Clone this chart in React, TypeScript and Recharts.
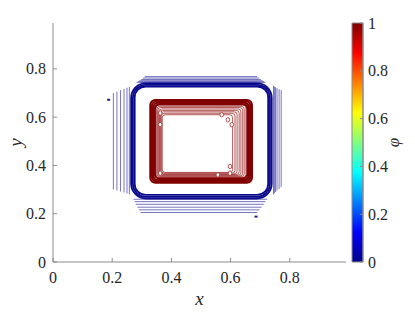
import React from "react";
import {
  ComposedChart, BarChart, Bar, Line, Scatter, XAxis, YAxis,
  ReferenceArea, Rectangle, Label,
} from "recharts";

// axis ticks
const X_TICKS = [0, 0.2, 0.4, 0.6, 0.8];
const Y_TICKS = [0, 0.2, 0.4, 0.6, 0.8];
const CB_TICKS = [0, 0.2, 0.4, 0.6, 0.8, 1];

// thick phi~0 contours (x1, x2, y1, y2)
const BLUE_THICK = [
  [0.276, 0.727, 0.278, 0.727],
  [0.270, 0.733, 0.270, 0.734],
  [0.264, 0.739, 0.263, 0.741],
];

// thin outer phi~0 contours, one side at a time (outer -> inner)
const BLUE_THIN_LEFT = [0.204, 0.216, 0.228, 0.240, 0.250, 0.258];
const BLUE_THIN_LEFT_SPAN = [[0.300, 0.700], [0.296, 0.706], [0.292, 0.712], [0.288, 0.717], [0.284, 0.722], [0.280, 0.726]];
const BLUE_THIN_TOP = [0.768, 0.762, 0.756, 0.751, 0.747, 0.744];
const BLUE_THIN_TOP_SPAN = [[0.310, 0.690], [0.304, 0.696], [0.298, 0.702], [0.292, 0.708], [0.287, 0.713], [0.282, 0.718]];
const BLUE_THIN_RIGHT = [0.771, 0.764, 0.757, 0.752, 0.748, 0.745];
const BLUE_THIN_RIGHT_SPAN = [[0.310, 0.712], [0.302, 0.716], [0.296, 0.720], [0.290, 0.724], [0.285, 0.727], [0.280, 0.730]];
const BLUE_THIN_BOTTOM = [0.205, 0.216, 0.227, 0.239, 0.250, 0.260];
const BLUE_THIN_BOTTOM_SPAN = [[0.296, 0.690], [0.290, 0.698], [0.285, 0.705], [0.280, 0.712], [0.276, 0.718], [0.272, 0.723]];

const BLUE_SPECKS = [{ x: 0.188, y: 0.672 }, { x: 0.686, y: 0.188 }];

// phi~1 contours (x1, x2, y1, y2)
const RED_THICK = [
  [0.329, 0.672, 0.329, 0.671],
  [0.334, 0.667, 0.334, 0.666],
  [0.339, 0.662, 0.339, 0.660],
  [0.344, 0.657, 0.345, 0.654],
];
const RED_THIN = [
  [0.348, 0.652, 0.350, 0.650],
  [0.351, 0.646, 0.353, 0.645],
  [0.354, 0.641, 0.356, 0.640],
  [0.357, 0.635, 0.359, 0.634],
  [0.360, 0.629, 0.362, 0.628],
  [0.363, 0.622, 0.365, 0.622],
  [0.366, 0.615, 0.368, 0.616],
  [0.369, 0.607, 0.371, 0.610],
];
const RED_DOTS = [
  { x: 0.362, y: 0.617 }, { x: 0.362, y: 0.569 }, { x: 0.362, y: 0.368 },
  { x: 0.598, y: 0.368 }, { x: 0.598, y: 0.396 }, { x: 0.591, y: 0.589 },
  { x: 0.604, y: 0.569 }, { x: 0.570, y: 0.610 }, { x: 0.557, y: 0.361 },
];

const CB_DATA = [{ name: "phi", v: 1 }];

const FONT = "Liberation Serif, DejaVu Serif, serif";
const AX = "#8c8c8c";
const INK = "#262626";

// tick label drawn as plain svg text so the serif font sticks
const serifTick = (dy: string) => (p: any) => (
  <text x={p.x} y={p.y} dy={dy} textAnchor={p.textAnchor}
    fontFamily={FONT} fontSize={16} fill={INK}>
    {String(p.payload.value)}
  </text>
);

// one thin contour = four open sides separated by gaps
function thinContour(i: number) {
  const L = BLUE_THIN_LEFT[i], T = BLUE_THIN_TOP[i], R = BLUE_THIN_RIGHT[i], B = BLUE_THIN_BOTTOM[i];
  return [
    { x: L, y: BLUE_THIN_LEFT_SPAN[i][0] }, { x: L, y: BLUE_THIN_LEFT_SPAN[i][1] }, { x: L, y: null },
    { x: BLUE_THIN_TOP_SPAN[i][0], y: T }, { x: BLUE_THIN_TOP_SPAN[i][1], y: T }, { x: BLUE_THIN_TOP_SPAN[i][1], y: null },
    { x: R, y: BLUE_THIN_RIGHT_SPAN[i][1] }, { x: R, y: BLUE_THIN_RIGHT_SPAN[i][0] }, { x: R, y: null },
    { x: BLUE_THIN_BOTTOM_SPAN[i][1], y: B }, { x: BLUE_THIN_BOTTOM_SPAN[i][0], y: B },
  ];
}

const rounded = (r: number) => (p: any) => <Rectangle {...p} radius={r} />;

export default function App() {
  return (
    <div style={{ position: "absolute", left: 0, top: 0, width: 415, height: 312, background: "#fff", fontFamily: FONT }}>
      <ComposedChart
        width={415} height={312}
        margin={{ top: 23, right: 69, bottom: 0, left: 0 }}
        style={{ position: "absolute", left: 0, top: 0 }}
      >
        <XAxis
          type="number" dataKey="x" domain={[0, 0.99]} ticks={X_TICKS} allowDataOverflow
          height={50} tick={serifTick("0.71em")} tickSize={-4} tickMargin={14} stroke={AX}
        >
          <Label
            content={(p: any) => {
              const vb = p.viewBox;
              return (
                <text x={vb.x + vb.width / 2} y={vb.y + 43} textAnchor="middle"
                  fontFamily={FONT} fontSize={19} fontStyle="italic" fill={INK}>x</text>
              );
            }}
          />
        </XAxis>
        <XAxis xAxisId="t" orientation="top" type="number" domain={[0, 0.99]} ticks={X_TICKS}
          height={0} tick={false} tickSize={-4} stroke={AX} />
        <YAxis
          type="number" dataKey="y" domain={[0, 0.99]} ticks={Y_TICKS} allowDataOverflow
          width={53} tick={serifTick("0.35em")} tickSize={-4} tickMargin={11} stroke={AX}
        >
          <Label
            content={(p: any) => {
              const vb = p.viewBox;
              const cx = vb.x + 15, cy = vb.y + vb.height / 2;
              return (
                <text x={cx} y={cy} transform={`rotate(-90 ${cx} ${cy})`} textAnchor="middle"
                  dominantBaseline="central" fontFamily={FONT} fontSize={19} fontStyle="italic" fill={INK}>y</text>
              );
            }}
          />
        </YAxis>
        <YAxis yAxisId="r" orientation="right" type="number" domain={[0, 0.99]} ticks={Y_TICKS}
          width={0} tick={false} tickSize={-4} stroke={AX} />

        {RED_THIN.map((r, i) => (
          <ReferenceArea key={"rt" + i} x1={r[0]} x2={r[1]} y1={r[2]} y2={r[3]}
            fill="none" stroke="#9a2020" strokeOpacity={0.75} strokeWidth={1} shape={rounded(3)} />
        ))}
        {RED_THICK.map((r, i) => (
          <ReferenceArea key={"rk" + i} x1={r[0]} x2={r[1]} y1={r[2]} y2={r[3]}
            fill="none" stroke="#800000" strokeWidth={2.2} strokeOpacity={1} shape={rounded(5)} />
        ))}
        {BLUE_THICK.map((r, i) => (
          <ReferenceArea key={"bk" + i} x1={r[0]} x2={r[1]} y1={r[2]} y2={r[3]}
            fill="none" stroke="#0a0a8c" strokeWidth={1.8} strokeOpacity={1} shape={rounded(11 + i * 2)} />
        ))}

        {BLUE_THIN_LEFT.map((_, i) => (
          <Line key={"bt" + i} data={thinContour(i)} dataKey="y" type="linear"
            stroke="#2a2a9e" strokeOpacity={0.65} strokeWidth={1} dot={false} activeDot={false}
            connectNulls={false} isAnimationActive={false} />
        ))}

        <Scatter data={RED_DOTS} dataKey="y" isAnimationActive={false}
          shape={(p: any) => <ellipse cx={p.cx} cy={p.cy} rx={1.8} ry={2.2} fill="#fff" stroke="#a52a2a" strokeOpacity={0.8} strokeWidth={1} />} />
        <Scatter data={BLUE_SPECKS} dataKey="y" isAnimationActive={false}
          shape={(p: any) => <rect x={p.cx - 1.5} y={p.cy - 1} width={3} height={2} fill="#1a1a9a" />} />
      </ComposedChart>

      {/* colorbar */}
      <BarChart
        width={70} height={312} data={CB_DATA} barCategoryGap={0}
        margin={{ top: 23, right: 0, bottom: 50, left: 7 }}
        style={{ position: "absolute", left: 345, top: 0 }}
      >
        <defs>
          <linearGradient id="jet" x1="0" y1="1" x2="0" y2="0">
            <stop offset="0" stopColor="#00008f" />
            <stop offset="0.125" stopColor="#0000ff" />
            <stop offset="0.375" stopColor="#00ffff" />
            <stop offset="0.625" stopColor="#ffff00" />
            <stop offset="0.875" stopColor="#ff0000" />
            <stop offset="1" stopColor="#800000" />
          </linearGradient>
        </defs>
        <XAxis dataKey="name" hide height={0} />
        <YAxis
          orientation="right" type="number" domain={[0, 1]} ticks={CB_TICKS} width={52}
          tick={serifTick("0.35em")} tickSize={-3} tickMargin={8} stroke={AX}
        >
          <Label
            content={(p: any) => {
              const vb = p.viewBox;
              const cx = vb.x + 30, cy = vb.y + vb.height / 2;
              return (
                <text x={cx} y={cy} transform={`rotate(-90 ${cx} ${cy})`} textAnchor="middle"
                  dominantBaseline="central" fontFamily={FONT} fontSize={17} fontStyle="italic" fill={INK}>φ</text>
              );
            }}
          />
        </YAxis>
        <Bar dataKey="v" fill="url(#jet)" stroke={AX} strokeWidth={1} isAnimationActive={false} />
      </BarChart>
    </div>
  );
}
